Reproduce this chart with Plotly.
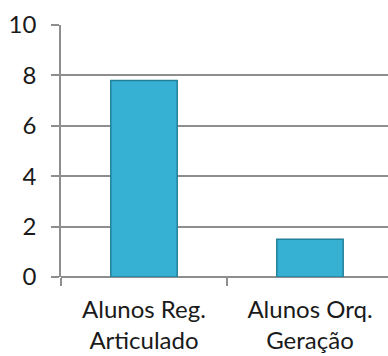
import plotly.graph_objects as go

# Student counts per group
categories = ["Alunos Reg.<br>Articulado", "Alunos Orq.<br>Geração"]
values = [7.8, 1.5]
y_ticks = [0, 2, 4, 6, 8, 10]

grid_color = "#8E8E8E"
font = dict(family="Lato, 'Open Sans', sans-serif", size=24, color="#1A1A1A")

fig = go.Figure()
fig.add_trace(go.Bar(
    x=categories,
    y=values,
    width=0.4,
    marker=dict(color="#37B1D3", line=dict(color="#23809B", width=1.5)),
))

fig.update_layout(
    width=388,
    height=356,
    margin=dict(l=61, r=0, t=25, b=79),
    paper_bgcolor="white",
    plot_bgcolor="white",
    font=font,
    showlegend=False,
    bargap=0.6,
)
fig.update_xaxes(
    type="category",
    range=[-0.5, 1.47],
    tickson="boundaries",
    ticks="outside",
    ticklen=8,
    tickcolor=grid_color,
    tickwidth=1.5,
    showgrid=False,
    showline=False,
    tickfont=font,
    ticklabelstandoff=16,
    automargin=False,
)
fig.update_yaxes(
    range=[0, 10],
    tickvals=y_ticks,
    ticks="outside",
    ticklen=8,
    tickcolor=grid_color,
    tickwidth=1.5,
    showline=True,
    linecolor=grid_color,
    linewidth=1.5,
    showgrid=True,
    gridcolor=grid_color,
    gridwidth=1.5,
    zeroline=True,
    zerolinecolor=grid_color,
    zerolinewidth=1.5,
    tickfont=font,
    ticklabelstandoff=10,
    automargin=False,
)

fig.write_html("out.html")
